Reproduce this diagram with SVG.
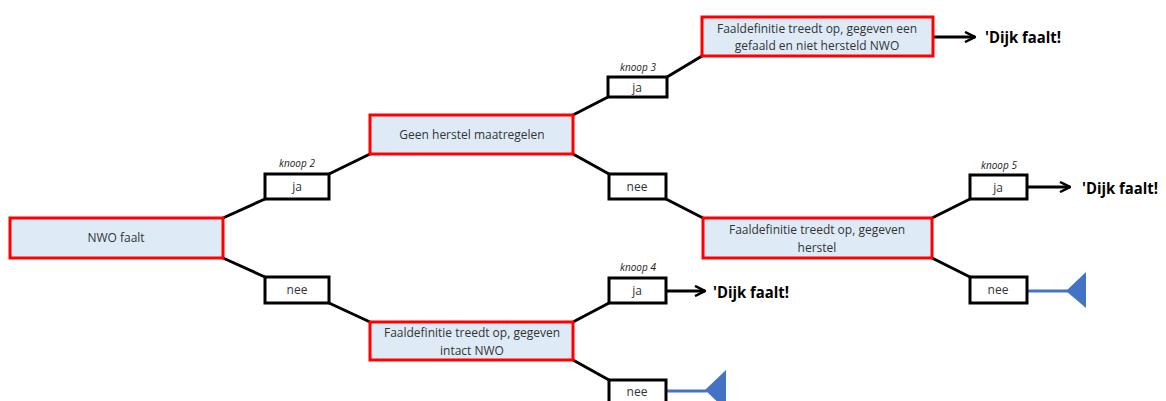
<svg xmlns="http://www.w3.org/2000/svg" width="1166" height="401" viewBox="0 0 1166 401">
  <style>
    .event { fill: #deebf7; stroke: #ff0000; stroke-width: 3; }
    .branch { fill: #ffffff; stroke: #000000; stroke-width: 3; }
    .link { stroke: #000000; stroke-width: 3; fill: none; }
    .txt { font-family: "Open Sans", "Liberation Sans", sans-serif; font-size: 12px; fill: #333333; text-anchor: middle; }
    .knoop { font-family: "Open Sans", "Liberation Sans", sans-serif; font-size: 10px; font-style: italic; fill: #222222; text-anchor: middle; }
    .fail { font-family: "Open Sans", "Liberation Sans", sans-serif; font-size: 16px; font-weight: bold; fill: #000000; }
    .end { stroke: #4472c4; stroke-width: 3; fill: none; }
    .endcap { fill: #4472c4; }
  </style>
  <defs>
    <marker id="arrow" viewBox="0 0 12 12" refX="11" refY="6" markerWidth="12" markerHeight="12" markerUnits="userSpaceOnUse" orient="auto">
      <path d="M1,1 L11,6 L1,11" fill="none" stroke="#000000" stroke-width="2.5"/>
    </marker>
  </defs>

  <!-- connectors -->
  <g id="connectors">
    <line class="link" x1="223" y1="218" x2="265" y2="199"/>
    <line class="link" x1="223" y1="258" x2="265" y2="277"/>
    <line class="link" x1="329" y1="174" x2="370" y2="154"/>
    <line class="link" x1="329" y1="303" x2="370" y2="322"/>
    <line class="link" x1="573" y1="115" x2="608" y2="97"/>
    <line class="link" x1="667" y1="77" x2="702" y2="56"/>
    <line class="link" x1="573" y1="154" x2="609" y2="174"/>
    <line class="link" x1="666" y1="199" x2="703" y2="218"/>
    <line class="link" x1="932" y1="218" x2="970" y2="199"/>
    <line class="link" x1="932" y1="258" x2="970" y2="277"/>
    <line class="link" x1="573" y1="322" x2="609" y2="303"/>
    <line class="link" x1="573" y1="360" x2="609" y2="380"/>
    <line class="link" x1="933" y1="37" x2="975" y2="37" marker-end="url(#arrow)"/>
    <line class="link" x1="1027" y1="187" x2="1070" y2="187" marker-end="url(#arrow)"/>
    <line class="link" x1="666" y1="291" x2="705" y2="291" marker-end="url(#arrow)"/>
    <line class="end" x1="1027" y1="291" x2="1068" y2="291"/>
    <polygon class="endcap" points="1066,291 1086,272 1086,308"/>
    <line class="end" x1="666" y1="391" x2="707" y2="391"/>
    <polygon class="endcap" points="705,390 726,370 726,410"/>
  </g>

  <g id="nwo-faalt">
    <rect class="event" x="10" y="218" width="213" height="40"/>
    <text class="txt" x="116" y="242">NWO faalt</text>
  </g>

  <g id="knoop2-ja">
    <text class="knoop" x="297" y="167">knoop 2</text>
    <rect class="branch" x="265" y="174" width="64" height="25"/>
    <text class="txt" x="297" y="191">ja</text>
  </g>

  <g id="knoop2-nee">
    <rect class="branch" x="265" y="277" width="64" height="26"/>
    <text class="txt" x="297" y="294">nee</text>
  </g>

  <g id="geen-herstel">
    <rect class="event" x="370" y="115" width="203" height="39"/>
    <text class="txt" x="472" y="139">Geen herstel maatregelen</text>
  </g>

  <g id="knoop3-ja">
    <text class="knoop" x="638" y="71">knoop 3</text>
    <rect class="branch" x="608" y="77" width="59" height="20"/>
    <text class="txt" x="637" y="92">ja</text>
  </g>

  <g id="faal-niet-hersteld">
    <rect class="event" x="702" y="17" width="231" height="39"/>
    <text class="txt" x="817" y="33">Faaldefinitie treedt op, gegeven een</text>
    <text class="txt" x="817" y="50">gefaald en niet hersteld NWO</text>
  </g>

  <g id="uitkomst-1">
    <text class="fail" x="985" y="43" textLength="76" lengthAdjust="spacingAndGlyphs">'Dijk faalt!</text>
  </g>

  <g id="herstel-nee">
    <rect class="branch" x="609" y="174" width="57" height="25"/>
    <text class="txt" x="637" y="191">nee</text>
  </g>

  <g id="faal-herstel">
    <rect class="event" x="703" y="218" width="229" height="40"/>
    <text class="txt" x="817" y="234">Faaldefinitie treedt op, gegeven</text>
    <text class="txt" x="817" y="252">herstel</text>
  </g>

  <g id="knoop5-ja">
    <text class="knoop" x="999" y="169">knoop 5</text>
    <rect class="branch" x="970" y="175" width="57" height="24"/>
    <text class="txt" x="998" y="192">ja</text>
  </g>

  <g id="uitkomst-2">
    <text class="fail" x="1082" y="194" textLength="76" lengthAdjust="spacingAndGlyphs">'Dijk faalt!</text>
  </g>

  <g id="knoop5-nee">
    <rect class="branch" x="970" y="277" width="57" height="26"/>
    <text class="txt" x="998" y="294">nee</text>
  </g>

  <g id="faal-intact">
    <rect class="event" x="370" y="322" width="203" height="38"/>
    <text class="txt" x="472" y="337">Faaldefinitie treedt op, gegeven</text>
    <text class="txt" x="472" y="355">intact NWO</text>
  </g>

  <g id="knoop4-ja">
    <text class="knoop" x="638" y="271">knoop 4</text>
    <rect class="branch" x="609" y="278" width="57" height="25"/>
    <text class="txt" x="637" y="295">ja</text>
  </g>

  <g id="uitkomst-3">
    <text class="fail" x="713" y="298" textLength="76" lengthAdjust="spacingAndGlyphs">'Dijk faalt!</text>
  </g>

  <g id="knoop4-nee">
    <rect class="branch" x="609" y="380" width="57" height="25"/>
    <text class="txt" x="637" y="396">nee</text>
  </g>
</svg>
